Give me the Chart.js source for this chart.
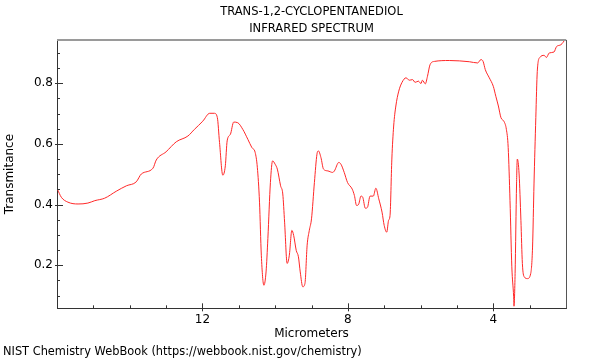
<!DOCTYPE html>
<html>
<head>
<meta charset="utf-8">
<script src="https://cdn.jsdelivr.net/npm/chart.js@4"></script>
<style>
  body{margin:0;background:#fff}
  #wrap{width:600px;height:360px;position:relative}
</style>
</head>
<body>
<div id="wrap"><canvas id="myChart"></canvas></div>
<script>
// spectrum, left (16 um) to right (2 um)
const microns=[15.99,15.88,15.70,15.42,15.15,14.96,14.69,14.37,14.09,13.82,13.68,13.36,13.27,13.00,12.72,12.40,12.22,11.99,11.80,11.67,
  11.59,11.53,11.44,11.37,11.32,11.23,11.14,11.03,10.89,10.75,10.64,10.55,10.49,10.43,10.38,10.31,10.25,10.20,10.13,10.07,
  10.00,9.94,9.85,9.79,9.74,9.67,9.61,9.54,9.49,9.42,9.36,9.31,9.24,9.18,9.12,9.06,9.00,8.92,8.85,8.81,
  8.74,8.67,8.55,8.42,8.37,8.25,8.19,8.10,8.01,7.88,7.82,7.76,7.70,7.64,7.59,7.52,7.46,7.39,7.30,7.23,
  7.15,7.06,7.00,6.93,6.88,6.84,6.79,6.74,6.68,6.60,6.51,6.40,6.31,6.22,6.15,6.06,5.99,5.95,5.87,5.81,
  5.74,5.62,5.21,4.66,4.43,4.34,4.28,4.22,4.11,4.00,3.93,3.86,3.79,3.70,3.64,3.59,3.54,3.49,3.44,3.43,
  3.40,3.36,3.34,3.29,3.24,3.20,3.15,3.06,2.97,2.92,2.88,2.83,2.79,2.72,2.60,2.54,2.46,2.33,2.26,2.14,2.02]
const transmitance=[.451,.424,.408,.402,.405,.413,.421,.444,.462,.475,.501,.520,.547,.574,.607,.626,.648,.675,.701,.701,
  .687,.605,.497,.528,.610,.632,.672,.670,.648,.615,.588,.572,.523,.408,.233,.134,.178,.288,.473,.544,
  .533,.517,.462,.435,.342,.206,.233,.315,.298,.249,.228,.178,.129,.140,.266,.315,.353,.473,.566,.577,
  .555,.517,.511,.506,.511,.539,.533,.506,.473,.451,.430,.397,.402,.428,.424,.388,.391,.428,.428,.454,
  .419,.375,.331,.309,.348,.364,.550,.659,.725,.774,.803,.818,.810,.812,.803,.807,.799,.810,.798,.823,
  .861,.872,.875,.871,.867,.878,.872,.845,.818,.790,.757,.725,.687,.673,.648,.588,.413,.195,.096,.065,
  .173,.468,.550,.501,.348,.206,.162,.156,.173,.260,.468,.687,.839,.885,.892,.885,.900,.903,.921,.927,.945]
const xLabels=[4,8,12]
const yLabels=[0.2,0.4,0.6,0.8]
const xMinor=[3,5,6,7,9,10,11,13,14,15]
const yMinor=[0.1,0.15,0.25,0.3,0.35,0.45,0.5,0.55,0.65,0.7,0.75,0.85,0.9]

Chart.defaults.font.family="'DejaVu Sans'"
Chart.defaults.font.size=12
Chart.defaults.color='#000'

// frame + tick marks drawn through the scales
const frame={
  id:'frame',
  afterDraw(chart){
    const c=chart.ctx, a=chart.chartArea
    const xs=chart.scales.x, ys=chart.scales.y
    c.save()
    c.lineWidth=2; c.strokeStyle='#9a9a9a'
    c.beginPath(); c.moveTo(a.left,a.top); c.lineTo(a.right,a.top); c.stroke()
    c.lineWidth=1; c.strokeStyle='#555'
    c.beginPath(); c.moveTo(a.right+0.5,a.top); c.lineTo(a.right+0.5,a.bottom); c.stroke()
    c.strokeStyle='#333'
    c.beginPath()
    xMinor.forEach(v=>{let p=Math.round(xs.getPixelForValue(v))+0.5; c.moveTo(p,a.bottom); c.lineTo(p,a.bottom-3)})
    xLabels.forEach(v=>{let p=Math.round(xs.getPixelForValue(v))+0.5; c.moveTo(p,a.bottom+3); c.lineTo(p,a.bottom-5)})
    yMinor.forEach(v=>{let p=Math.round(ys.getPixelForValue(v))+0.5; c.moveTo(a.left,p); c.lineTo(a.left+3,p)})
    yLabels.forEach(v=>{let p=Math.round(ys.getPixelForValue(v))+0.5; c.moveTo(a.left-2,p); c.lineTo(a.left+6,p)})
    c.stroke()
    c.restore()
  }
}

const ctx=document.getElementById('myChart')
let chart=new Chart(ctx,{
  type:'line',
  data:{
    datasets:[{
      data:microns.map((m,i)=>({x:m,y:transmitance[i]})),
      borderColor:'rgb(255,40,40)',
      borderWidth:1,
      pointRadius:0,
      fill:false,
      cubicInterpolationMode:'monotone'
    }]
  },
  options:{
    responsive:true,
    maintainAspectRatio:false,
    animation:false,
    layout:{padding:{left:3,right:34,top:0,bottom:0}},
    plugins:{
      legend:{display:false},
      tooltip:{enabled:false},
      title:{display:true,fullSize:false,text:['TRANS-1,2-CYCLOPENTANEDIOL','INFRARED SPECTRUM'],
        font:{size:11.5,weight:'normal',lineHeight:1.43},padding:{top:4,bottom:3}},
      subtitle:{display:true,position:'bottom',align:'start',text:'NIST Chemistry WebBook (https://webbook.nist.gov/chemistry)',
        font:{size:11.4,lineHeight:1.2},padding:{top:1,bottom:1}}
    },
    scales:{
      x:{
        type:'linear',reverse:true,min:2,max:16,
        afterBuildTicks:s=>{s.ticks=xLabels.map(v=>({value:v}))},
        afterFit:s=>{s.height=36},
        grid:{display:false,drawTicks:false},
        border:{display:true,color:'#333'},
        ticks:{padding:4,maxRotation:0},
        title:{display:true,text:'Micrometers',padding:{top:0,bottom:3}}
      },
      y:{
        min:0.058,max:0.943,
        afterBuildTicks:s=>{s.ticks=yLabels.map(v=>({value:v}))},
        afterFit:s=>{s.width=54},
        grid:{display:false,drawTicks:false},
        border:{display:true,color:'#333'},
        ticks:{padding:4},
        title:{display:true,text:'Transmitance',padding:0}
      }
    }
  },
  plugins:[frame]
})
</script>
</body>
</html>
